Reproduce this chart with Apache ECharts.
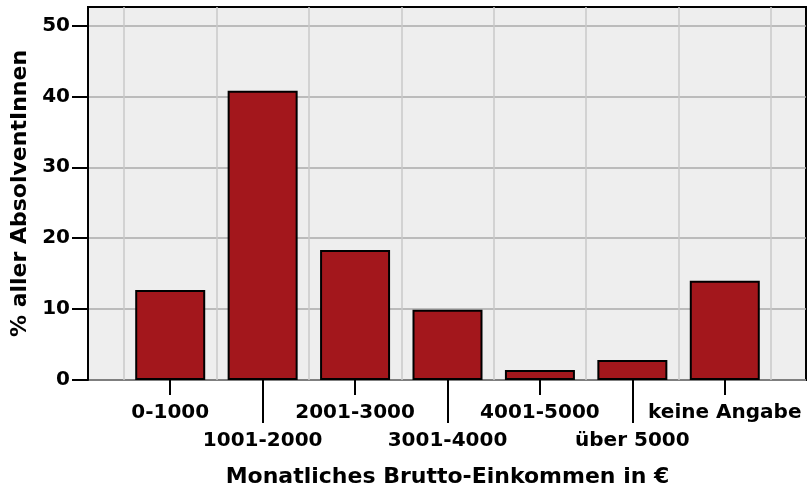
<!DOCTYPE html>
<html>
<head>
<meta charset="utf-8">
<script src="https://cdn.jsdelivr.net/npm/echarts@6/dist/echarts.min.js"></script>
<style>
  html, body { margin: 0; padding: 0; background: #fff; }
  #chart { width: 807px; height: 493px; }
</style>
</head>
<body>
<div id="chart"></div>
<script>
// income brackets and share of graduates (%)
const categories = ['0-1000', '1001-2000', '2001-3000', '3001-4000', '4001-5000', 'über 5000', 'keine Angabe']
const shares = [12.7, 40.8, 18.35, 9.9, 1.41, 2.82, 14.0]
const yTicks = [0, 10, 20, 30, 40, 50]

const FONT = 'DejaVu Sans'
const Y_MAX = 52.6

const chart = echarts.init(document.getElementById('chart'))

const option = {
  animation: false,
  grid: [
    // frame + horizontal grid lines
    { left: 88, right: 1, top: 7, bottom: 113, show: true, backgroundColor: '#eeeeee', borderColor: '#000', borderWidth: 2 },
    // category area
    { left: 124, right: 36, top: 7, bottom: 113 }
  ],
  xAxis: [
    { gridIndex: 0, type: 'value', min: 0, max: 1, show: false },
    {
      gridIndex: 1,
      type: 'category',
      position: 'bottom',
      data: categories,
      axisLine: { show: false },
      axisTick: {
        show: true,
        alignWithLabel: true,
        length: 15,
        interval: (i) => i % 2 === 0,
        lineStyle: { color: '#000', width: 2 }
      },
      axisLabel: {
        interval: 0,
        margin: 19,
        fontFamily: FONT,
        fontWeight: 'bold',
        fontSize: 20,
        color: '#000',
        lineHeight: 28,
        formatter: (v, i) => (i % 2 === 1 ? '\n' + v : v)
      },
      splitLine: { show: true, interval: 0, lineStyle: { color: '#c8c8c8', width: 1.5 } },
      name: 'Monatliches Brutto-Einkommen in €',
      nameLocation: 'middle',
      nameGap: 86,
      nameTextStyle: { fontFamily: FONT, fontWeight: 'bold', fontSize: 22, color: '#000' }
    },
    {
      gridIndex: 1,
      type: 'category',
      position: 'bottom',
      offset: 0,
      data: categories,
      axisLine: { show: false },
      axisLabel: { show: false },
      axisTick: {
        show: true,
        alignWithLabel: true,
        length: 43,
        interval: (i) => i % 2 === 1,
        lineStyle: { color: '#000', width: 2 }
      },
      splitLine: { show: false }
    }
  ],
  yAxis: [
    {
      gridIndex: 0,
      type: 'value',
      min: 0,
      max: Y_MAX,
      axisLine: { show: true, lineStyle: { color: '#000', width: 2 } },
      axisTick: { show: true, length: 16, customValues: yTicks, lineStyle: { color: '#000', width: 2 } },
      axisLabel: {
        customValues: yTicks,
        margin: 18,
        fontFamily: FONT,
        fontWeight: 'bold',
        fontSize: 20,
        color: '#000'
      },
      splitLine: { show: true, lineStyle: { color: '#aaaaaa', width: 1.5 } },
      name: '% aller AbsolventInnen',
      nameLocation: 'middle',
      nameRotate: 90,
      nameGap: 55,
      nameTextStyle: { fontFamily: FONT, fontWeight: 'bold', fontSize: 22, color: '#000' }
    },
    { gridIndex: 1, type: 'value', min: 0, max: Y_MAX, show: false, splitLine: { show: false } }
  ],
  series: [
    {
      type: 'bar',
      xAxisIndex: 1,
      yAxisIndex: 1,
      data: shares,
      barWidth: 70,
      itemStyle: { color: '#a3171c', borderColor: '#000', borderWidth: 2 }
    }
  ]
}

chart.setOption(option)
</script>
</body>
</html>
